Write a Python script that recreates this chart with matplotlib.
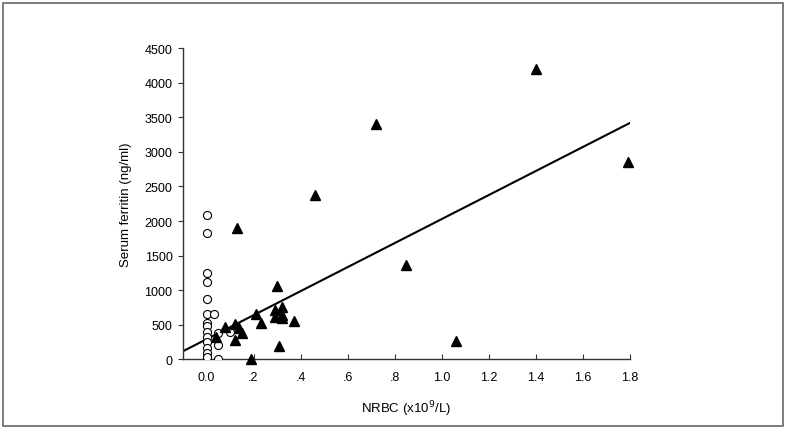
import matplotlib.pyplot as plt
import numpy as np
from matplotlib.patches import Rectangle

plt.rcParams['font.family'] = ['Liberation Sans', 'DejaVu Sans']

# open circles: patients without NRBC
circ_x = [0, 0, 0, 0, 0, 0, 0, 0, 0, 0, 0, 0, 0, 0,
          0.03, 0.05, 0.05, 0.05, 0.10]
circ_y = [2090, 1830, 1250, 1120, 870, 650, 530, 480, 400, 330, 250, 170, 100, 30,
          650, 380, 210, 0, 390]

# filled triangles: patients with NRBC
tri_x = [0.04, 0.08, 0.12, 0.14, 0.15, 0.12, 0.13, 0.19, 0.21, 0.23,
         0.29, 0.32, 0.29, 0.32, 0.32, 0.30, 0.37, 0.31,
         0.46, 0.72, 0.85, 1.06, 1.40, 1.79]
tri_y = [330, 470, 510, 450, 380, 275, 1900, 0, 650, 525,
         720, 755, 610, 645, 600, 1065, 550, 200,
         2370, 3400, 1360, 260, 4200, 2850]

# regression line
intercept = 293
slope = 1736

xticks = [0.0, 0.2, 0.4, 0.6, 0.8, 1.0, 1.2, 1.4, 1.6, 1.8]
xticklabels = ["0.0", ".2", ".4", ".6", ".8", "1.0", "1.2", "1.4", "1.6", "1.8"]
yticks = [0, 500, 1000, 1500, 2000, 2500, 3000, 3500, 4000, 4500]

fig = plt.figure(figsize=(7.87, 4.31), dpi=100)
ax = fig.add_axes([0.2325, 0.1636, 0.568, 0.7227])

xl = np.array([-0.1, 1.8])
ax.plot(xl, intercept + slope * xl, color="black", lw=1.5, zorder=2)
ax.plot(circ_x, circ_y, "o", ms=5.8, mfc="white", mec="black", mew=0.8, zorder=3)
ax.plot(tri_x, tri_y, "^", ms=6.5, mfc="black", mec="black", zorder=3, clip_on=False)

ax.set_xlim(-0.1, 1.8)
ax.set_ylim(0, 4500)
ax.set_xticks(xticks)
ax.set_xticklabels(xticklabels)
ax.set_yticks(yticks)
for s in ["top", "right"]:
    ax.spines[s].set_visible(False)
for s in ["left", "bottom"]:
    ax.spines[s].set_color("#333333")
    ax.spines[s].set_linewidth(1.0)
ax.tick_params(axis="x", direction="in", length=3.5, width=0.8, pad=8.5, labelsize=9, color="#333333")
ax.tick_params(axis="y", direction="out", length=3.5, width=0.8, pad=4, labelsize=9, color="#333333")
ax.set_xlabel("NRBC (x10$^9$/L)", fontsize=9.5, labelpad=11)
ax.set_ylabel("Serum ferritin (ng/ml)", fontsize=9.5, labelpad=9)

# outer frame around the figure
fig.patches.append(Rectangle((3 / 787, 4 / 431), 780 / 787, 423 / 431,
                             transform=fig.transFigure, fill=False,
                             edgecolor="#666666", lw=1.2))

fig.savefig("out.png", dpi=100)
